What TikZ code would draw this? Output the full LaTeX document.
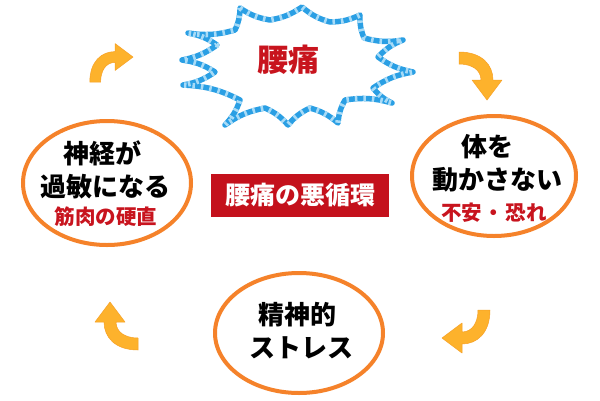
\documentclass[tikz,border=0pt]{standalone}
\usepackage{fontspec}
\newfontfamily\jp{Noto Sans CJK JP}
\usetikzlibrary{shapes.geometric}
\definecolor{ringorange}{HTML}{F5822A}
\definecolor{txtred}{HTML}{C8141E}
\definecolor{boxred}{HTML}{C4111C}
\definecolor{burstblue}{HTML}{2A9FE4}
\definecolor{burstlight}{HTML}{A8DBF7}
\definecolor{arrowfill}{HTML}{FDB22C}
\definecolor{arrowdark}{HTML}{F7A024}
\tikzset{
  ring/.style={draw=ringorange, line width=4pt, ellipse, inner sep=0pt},
  bigtxt/.style={inner sep=0pt, font=\jp\bfseries\fontsize{26}{26}\selectfont},
  smalltxt/.style={inner sep=0pt, text=txtred, font=\jp\bfseries\fontsize{20.5}{20.5}\selectfont},
  burstline/.style={line width=5.5pt, line join=round},
  cyclearrow/.style={fill=arrowfill, draw=arrowdark, line width=0.5pt, line join=round}
}
\newcommand\drawcyclearrow[3]{%
  \begin{scope}[shift={(#1)}, rotate=#2, x=1pt, y=1pt, scale=#3]
    \path[cyclearrow] (-48,-28) .. controls (-48,-5) and (-35,6) .. (-20,6)
      -- (-20,15) -- (0,0) -- (-20,-15) -- (-20,-6)
      .. controls (-30,-6) and (-36,-15) .. (-36,-28) -- cycle;
  \end{scope}}
\begin{document}
\begin{tikzpicture}[x=1pt,y=-1pt]
\useasboundingbox (0,0) rectangle (600,400);
\fill[white] (0,0) rectangle (600,400);
% starburst
\def\burstpath{(240,8) to[bend right=12] (270,20) to[bend right=12] (302,7)
  to[bend right=12] (330,22) to[bend right=12] (360,15)
  to[bend right=12] (364,38) to[bend right=12] (403,40)
  to[bend right=12] (378,57) to[bend right=12] (413,72)
  to[bend right=12] (373,88) to[bend right=12] (392,103)
  to[bend right=12] (345,100) to[bend right=12] (338,123)
  to[bend right=12] (310,108) to[bend right=12] (288,125)
  to[bend right=12] (265,108) to[bend right=12] (225,125)
  to[bend right=12] (240,100) to[bend right=12] (183,85)
  to[bend right=12] (215,72) to[bend right=12] (182,60)
  to[bend right=12] (217,45) to[bend right=12] (188,33)
  to[bend right=12] (235,30) to[bend right=12] (240,8)}
\draw[burstline, draw=burstblue] \burstpath -- cycle;
\draw[burstline, draw=burstlight, dash pattern=on 2.5pt off 6pt] \burstpath -- cycle;
\node[inner sep=0pt, text=txtred, font=\jp\bfseries\fontsize{31}{31}\selectfont] (pain) at (288,60) {腰痛};
% ellipses
\node[ring, minimum width=168pt, minimum height=124pt] (nerve) at (107,183) {};
\node[ring, minimum width=164pt, minimum height=120pt] (move) at (494,176) {};
\node[ring, minimum width=168pt, minimum height=120pt] (stress) at (299,333) {};
% left texts
\node[bigtxt] (n1) at (102,153) {神経が};
\node[bigtxt] (n2) at (105,187) {過敏になる};
\node[smalltxt] (n3) at (106,217) {筋肉の硬直};
% right texts
\node[bigtxt] (m1) at (487,147) {体を};
\node[bigtxt] (m2) at (497,180) {動かさない};
\node[smalltxt] (m3) at (494,213) {不安\hspace{1.5pt}・\hspace{1.5pt}恐れ};
% bottom texts
\node[bigtxt] (s1) at (297,315) {精神的};
\node[bigtxt] (s2) at (301,348) {ストレス};
% center label
\node[fill=boxred, minimum width=178pt, minimum height=43pt, inner sep=0pt, text=white,
  font=\jp\bfseries\fontsize{25}{25}\selectfont] (cycle) at (300,195) {腰痛の悪循環};
% arrows
\coordinate (a1) at (133,57);
\coordinate (a2) at (487,100);
\coordinate (a3) at (442,338);
\coordinate (a4) at (110,302);
\drawcyclearrow{a1}{0}{0.9}
\drawcyclearrow{a2}{-90}{1}
\drawcyclearrow{a3}{180}{1}
\drawcyclearrow{a4}{90}{1}
\end{tikzpicture}
\end{document}
